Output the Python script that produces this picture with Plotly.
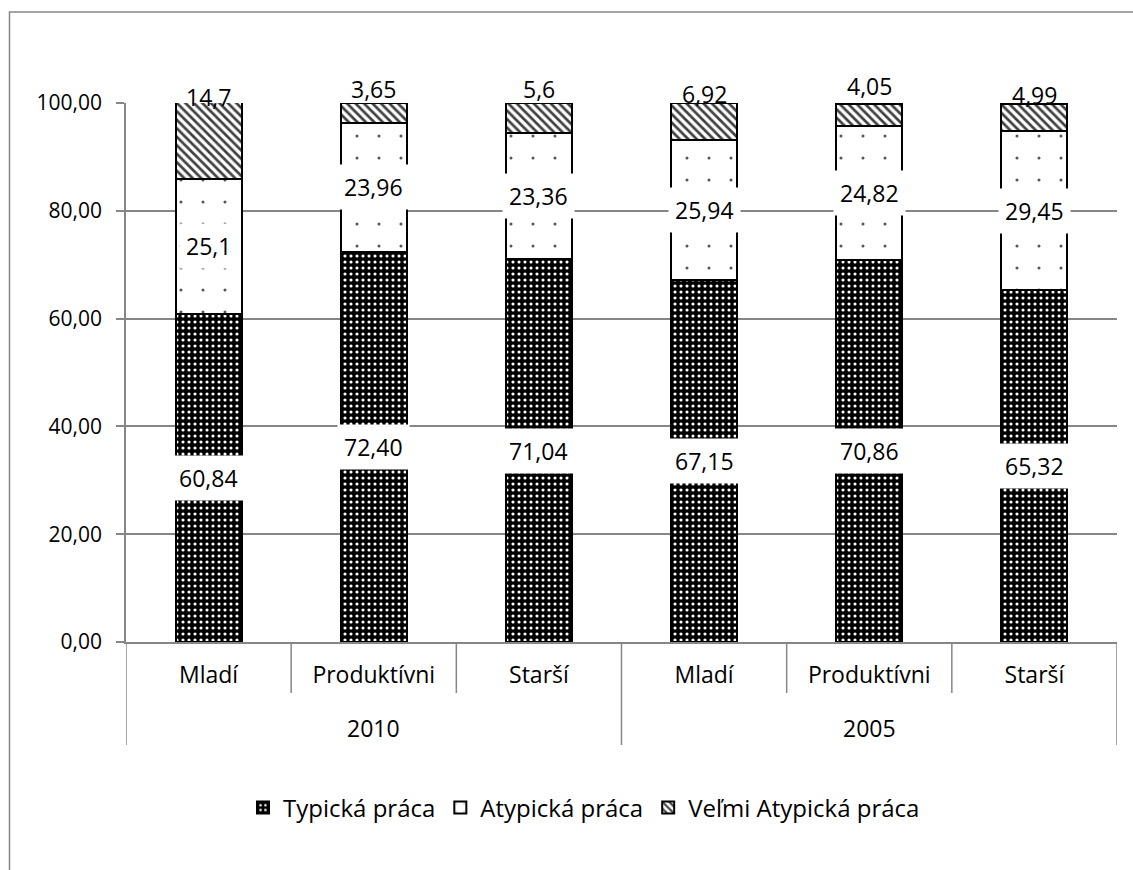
import plotly.graph_objects as go

# --- data -------------------------------------------------------------
years = ["2010", "2010", "2010", "2005", "2005", "2005"]
groups = ["Mladí", "Produktívni", "Starší", "Mladí", "Produktívni", "Starší"]
typicka = [60.84, 72.40, 71.04, 67.15, 70.86, 65.32]
atypicka = [25.1, 23.96, 23.36, 25.94, 24.82, 29.45]
velmi = [14.7, 3.65, 5.6, 6.92, 4.05, 4.99]
y_ticks = [0, 20, 40, 60, 80, 100]
series_names = ["Typická práca", "Atypická práca", "Veľmi Atypická práca"]

# --- styling ----------------------------------------------------------
FONT = "Open Sans"
FS = 23
FS_Y = 21
FS_LEG = 24
GREY = "#868686"
W, H = 1133, 870
L, R, T, B = 126, 16, 103, 228
PW, PH = W - L - R, H - T - B
# small upward nudges for the labels sitting on top of each stack
top_label_lift = [6, 14, 14, 9, 17, 8]


def px_to_paper_x(px):
    return (px - L) / PW


def px_to_paper_y(py):
    return (H - B - py) / PH


idx = list(range(len(groups)))

fig = go.Figure()

fig.add_trace(go.Bar(
    x=idx, y=typicka, name=series_names[0], width=0.4,
    marker=dict(
        color="black",
        line=dict(color="black", width=2),
        pattern=dict(shape=".", bgcolor="black", fgcolor="white",
                     size=6, solidity=0.22, fillmode="replace"),
    ),
))
fig.add_trace(go.Bar(
    x=idx, y=atypicka, name=series_names[1], width=0.4,
    marker=dict(
        color="white",
        line=dict(color="black", width=2),
        pattern=dict(shape=".", bgcolor="white", fgcolor="#555555",
                     size=22, solidity=0.015, fillmode="replace"),
    ),
))
fig.add_trace(go.Bar(
    x=idx, y=velmi, name=series_names[2], width=0.4,
    marker=dict(
        color="white",
        line=dict(color="black", width=2),
        pattern=dict(shape="\\", bgcolor="white", fgcolor="#404040",
                     size=6, solidity=0.45, fillmode="replace"),
    ),
))

# --- data labels ------------------------------------------------------
annotations = []
for i in idx:
    t, a, v = typicka[i], atypicka[i], velmi[i]
    annotations.append(dict(
        x=i, y=t / 2, xref="x", yref="y", showarrow=False,
        text=f"{t:.2f}".replace(".", ","), bgcolor="white", borderpad=6,
        font=dict(family=FONT, size=FS, color="black"),
    ))
    annotations.append(dict(
        x=i, y=t + a / 2, xref="x", yref="y", showarrow=False,
        text=str(a).replace(".", ","), bgcolor="white", borderpad=6,
        font=dict(family=FONT, size=FS, color="black"),
    ))
    annotations.append(dict(
        x=i, y=100, xref="x", yref="y", showarrow=False,
        text=str(v).replace(".", ","), yshift=top_label_lift[i],
        font=dict(family=FONT, size=FS, color="black"),
    ))

# year labels below the category labels
year_order = []
for y in years:
    if y not in year_order:
        year_order.append(y)
for yr in year_order:
    members = [i for i in idx if years[i] == yr]
    annotations.append(dict(
        x=sum(members) / len(members), y=px_to_paper_y(728),
        xref="x", yref="paper", yanchor="middle", showarrow=False, text=yr,
        font=dict(family=FONT, size=FS, color="black"),
    ))

# --- category separators ---------------------------------------------
shapes = []
for i in idx[:-1]:
    boundary = i + 0.5
    is_year_break = years[i] != years[i + 1]
    bottom = 745 if is_year_break else 693
    shapes.append(dict(
        type="line", xref="x", yref="paper",
        x0=boundary, x1=boundary, y0=0, y1=px_to_paper_y(bottom),
        line=dict(color=GREY, width=1.5),
    ))
for edge in (idx[0] - 0.5, idx[-1] + 0.5):
    shapes.append(dict(
        type="line", xref="x", yref="paper",
        x0=edge, x1=edge, y0=0, y1=px_to_paper_y(745),
        line=dict(color=GREY, width=1.5),
    ))

# chart frame
shapes.append(dict(
    type="rect", xref="paper", yref="paper", layer="below",
    x0=px_to_paper_x(9.5), x1=px_to_paper_x(W + 20),
    y0=px_to_paper_y(H + 20), y1=px_to_paper_y(12),
    line=dict(color=GREY, width=1.5), fillcolor="rgba(0,0,0,0)",
))

fig.update_layout(
    width=W, height=H,
    margin=dict(l=L, r=R, t=T, b=B),
    barmode="stack",
    paper_bgcolor="white", plot_bgcolor="white",
    separators=", ",
    font=dict(family=FONT, size=FS, color="black"),
    annotations=annotations,
    shapes=shapes,
    showlegend=True,
    legend=dict(
        orientation="h", x=px_to_paper_x(584), xanchor="center",
        y=px_to_paper_y(808), yanchor="middle",
        font=dict(family=FONT, size=FS_LEG, color="black"),
        traceorder="normal", itemclick=False,
    ),
)

fig.update_xaxes(
    range=[-0.5, len(groups) - 0.5],
    tickmode="array", tickvals=idx, ticktext=groups,
    showgrid=False, zeroline=False,
    showline=True, linecolor=GREY, linewidth=1.5,
    ticks="", ticklabelstandoff=12,
    tickfont=dict(family=FONT, size=FS, color="black"),
)
fig.update_yaxes(
    range=[0, 100], tickmode="array", tickvals=y_ticks,
    tickformat=".2f",
    showgrid=True, gridcolor=GREY, gridwidth=1.5,
    zeroline=False,
    showline=True, linecolor=GREY, linewidth=1.5,
    ticks="outside", ticklen=8, tickcolor=GREY, tickwidth=1.5,
    ticklabelstandoff=10,
    tickfont=dict(family=FONT, size=FS_Y, color="black"),
)

fig.write_html("out.html")
